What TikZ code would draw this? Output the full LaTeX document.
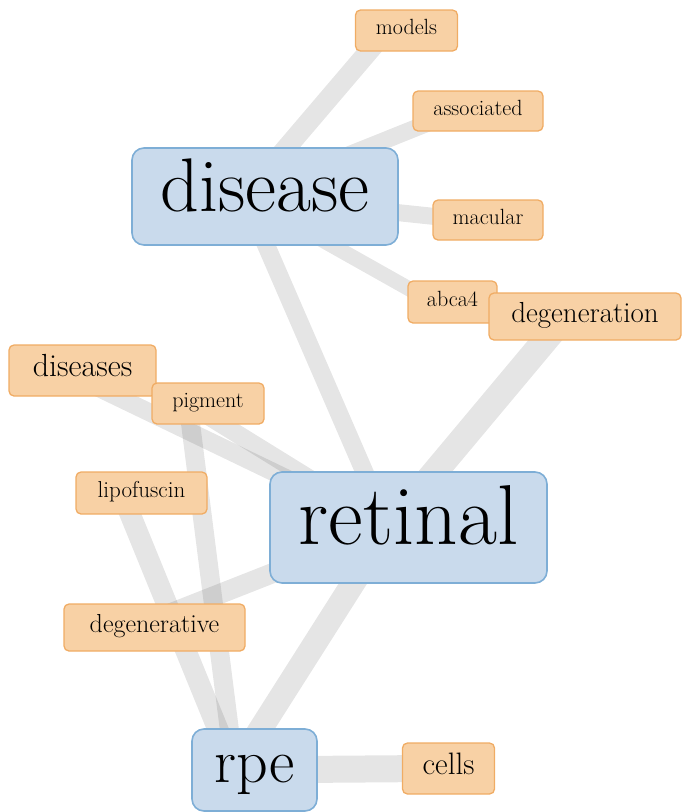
\documentclass[tikz,border=0pt]{standalone}
\usetikzlibrary{backgrounds}

\definecolor{hubfill}{RGB}{201,218,236}
\definecolor{hubline}{RGB}{126,174,214}
\definecolor{wordfill}{RGB}{248,209,165}
\definecolor{wordline}{RGB}{240,172,100}

\newcommand{\wordsize}[1]{\fontsize{#1}{#1}\selectfont}

\tikzset{
  hub/.style={draw=hubline, fill=hubfill, line width=1.6pt, rounded corners=12pt, inner sep=0pt},
  word/.style={draw=wordline, fill=wordfill, line width=1.3pt, rounded corners=5pt, inner sep=0pt},
  box/.style 2 args={minimum width=#1, minimum height=#2},
  link/.style={draw=black, draw opacity=0.1, line width=#1},
}

\begin{document}
\begin{tikzpicture}[x=1pt, y=-1pt]
    \useasboundingbox (0,0) rectangle (681,812);

    % words round disease
    \node[word, box={102pt}{41pt}, font=\wordsize{22}] (models) at (406.5,30.5) {models\strut};
    \node[word, box={130pt}{40pt}, font=\wordsize{22}] (associated) at (478,111) {associated\strut};
    \node[word, box={110pt}{40pt}, font=\wordsize{22}] (macular) at (488,220) {macular\strut};
    \node[word, box={89pt}{42pt}, font=\wordsize{22}] (abca4) at (452.5,302) {abca4\strut};
    \node[word, box={192pt}{47pt}, font=\wordsize{29}] (degeneration) at (585,316.5) {degeneration\strut};

    % words on the left
    \node[word, box={147pt}{51pt}, font=\wordsize{32}] (diseases) at (82.5,370.5) {diseases\strut};
    \node[word, box={112pt}{41pt}, font=\wordsize{22}] (pigment) at (208,403.5) {pigment\strut};
    \node[word, box={131pt}{42pt}, font=\wordsize{23}] (lipofuscin) at (141.5,493) {lipofuscin\strut};
    \node[word, box={181pt}{47pt}, font=\wordsize{26}] (degenerative) at (154.5,627.5) {degenerative\strut};
    \node[word, box={92pt}{51pt}, font=\wordsize{31}] (cells) at (448.5,768.5) {cells\strut};

    % hubs
    \node[hub, box={266pt}{97pt}, font=\wordsize{76}] (disease) at (265,196.5) {disease\strut};
    \node[hub, box={277pt}{111pt}, font=\wordsize{85}] (retinal) at (408.5,527.5) {retinal\strut};
    \node[hub, box={125pt}{82pt}, font=\wordsize{62}] (rpe) at (254.5,770) {rpe\strut};

    \begin{pgfonlayer}{background}
    \begin{scope}[transform canvas={xshift=-20pt}]
        \draw[link=20pt] (disease.center) -- (models.center);
        \draw[link=17pt] (disease.center) -- (associated.center);
        \draw[link=17pt] (disease.center) -- (macular.center);
        \draw[link=15pt] (disease.center) -- (abca4.center);
        \draw[link=18pt] (disease.center) -- (retinal.center);
        \draw[link=26pt] (degeneration.center) -- (retinal.center);
        \draw[link=18pt] (diseases.center) -- (retinal.center);
        \draw[link=18pt] (pigment.center) -- (retinal.center);
        \draw[link=20pt] (degenerative.center) -- (retinal.center);
        \draw[link=24pt] (retinal.center) -- (rpe.center);
        \draw[link=19pt] (pigment.center) -- (rpe.center);
        \draw[link=21pt] (lipofuscin.center) -- (rpe.center);
        \draw[link=27pt] (rpe.center) -- (cells.center);
    \end{scope}
    \end{pgfonlayer}
\end{tikzpicture}
\end{document}
